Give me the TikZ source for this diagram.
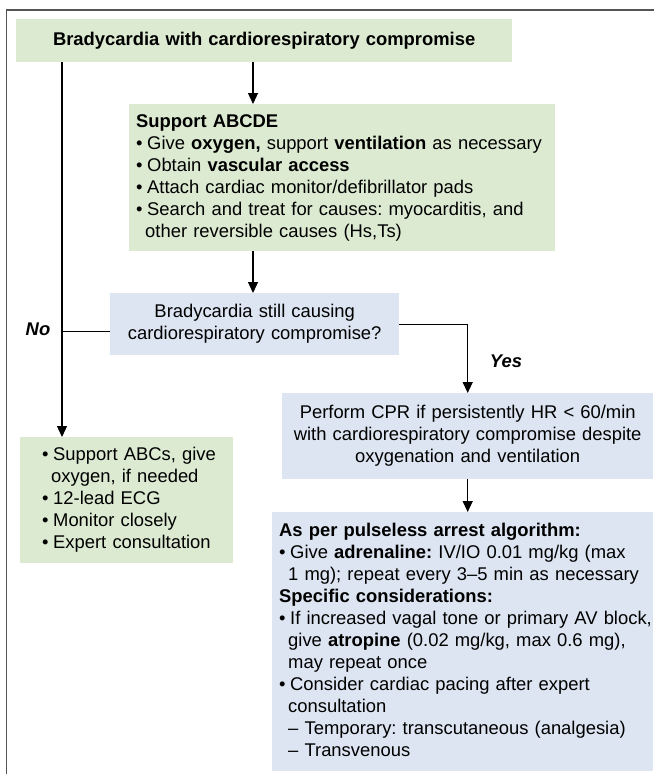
\documentclass[tikz,border=0pt]{standalone}
\usepackage{fontspec}
\setmainfont{Liberation Sans}
\usetikzlibrary{arrows.meta}
\definecolor{boxgreen}{HTML}{DCEAD2}
\definecolor{boxblue}{HTML}{DCE5F1}
\definecolor{framegray}{HTML}{555555}
% bullet with a fixed hanging width, and the indent of a continued line
\newcommand{\itm}{\makebox[11pt][l]{\textbullet}}
\newcommand{\cont}{\hspace*{9pt}}
\frenchspacing
\begin{document}
\begin{tikzpicture}[x=1pt,y=-1pt,
  every node/.style={font=\fontsize{18.4}{22}\selectfont},
  greenpanel/.style={fill=boxgreen, inner sep=0pt, anchor=north west},
  bluepanel/.style={fill=boxblue, inner sep=0pt, anchor=north west},
  flow/.style={draw=black, line width=1.2pt, -{Triangle[width=10pt,length=11pt]}},
  link/.style={draw=black, line width=1.2pt},
  answer/.style={font=\fontsize{18.4}{22}\selectfont\bfseries\itshape},
]
\useasboundingbox (0,0) rectangle (654,774);

% outer frame (top and left edges)
\draw[framegray, line width=1.5pt] (6.5,774) -- (6.5,10) -- (654,10);

% boxes
\node[greenpanel, minimum width=496pt, minimum height=43pt, text width=496pt, align=center]
  (title) at (16,19) {\textbf{Bradycardia with cardiorespiratory compromise}};

\node[greenpanel, minimum width=426pt, minimum height=147pt, inner xsep=7pt, text width=412pt, align=left]
  (support) at (129,104) {\begin{tabular}{@{}l@{}}
  \textbf{Support ABCDE}\\
  \itm Give \textbf{oxygen,} support \textbf{ventilation} as necessary\\
  \itm Obtain \textbf{vascular access}\\
  \itm Attach cardiac monitor/defibrillator pads\\
  \itm Search and treat for causes: myocarditis, and\\
  \cont other reversible causes (Hs,Ts)
  \end{tabular}};

\node[bluepanel, minimum width=289pt, minimum height=62pt, text width=289pt, align=center]
  (question) at (110,293) {Bradycardia still causing\\cardiorespiratory compromise?};

\node[bluepanel, minimum width=371pt, minimum height=86pt, text width=371pt, align=center]
  (cpr) at (282,393) {Perform CPR if persistently HR < 60/min\\with cardiorespiratory compromise despite\\oxygenation and ventilation};

\node[greenpanel, minimum width=213pt, minimum height=126pt, inner xsep=22pt, text width=169pt, align=left]
  (monitor) at (20,437) {\begin{tabular}{@{}l@{}}
  \itm Support ABCs, give\\
  \cont oxygen, if needed\\
  \itm 12-lead ECG\\
  \itm Monitor closely\\
  \itm Expert consultation
  \end{tabular}};

\node[bluepanel, minimum width=381pt, minimum height=259pt, inner xsep=7pt, text width=367pt, align=left]
  (arrest) at (272,512) {\begin{tabular}{@{}l@{}}
  \textbf{As per pulseless arrest algorithm:}\\
  \itm Give \textbf{adrenaline:} IV/IO 0.01 mg/kg (max\\
  \cont 1 mg); repeat every 3--5 min as necessary\\
  \textbf{Specific considerations:}\\
  \itm If increased vagal tone or primary AV block,\\
  \cont give \textbf{atropine} (0.02 mg/kg, max 0.6 mg),\\
  \cont may repeat once\\
  \itm Consider cardiac pacing after expert\\
  \cont consultation\\
  \cont -- Temporary: transcutaneous (analgesia)\\
  \cont -- Transvenous
  \end{tabular}};

% branch points
\coordinate (spine) at (253,0);
\coordinate (nobranch) at (62,0);

% connectors
\draw[flow] (title.south -| spine) -- (support.north -| spine);
\draw[flow] (support.south -| spine) -- (question.north -| spine);
\draw[flow] (title.south -| nobranch) -- (monitor.north -| nobranch);
\draw[link] ([yshift=-7pt]question.west) -- ([yshift=-7pt]question.west -| nobranch);
\draw[flow] (question.east) -| (cpr.north);
\draw[flow] (cpr.south) -- (cpr.south |- arrest.north);

% answer labels
\node[answer] (nolabel) at (38,329) {No};
\node[answer] (yeslabel) at (506,361) {Yes};
\end{tikzpicture}
\end{document}
